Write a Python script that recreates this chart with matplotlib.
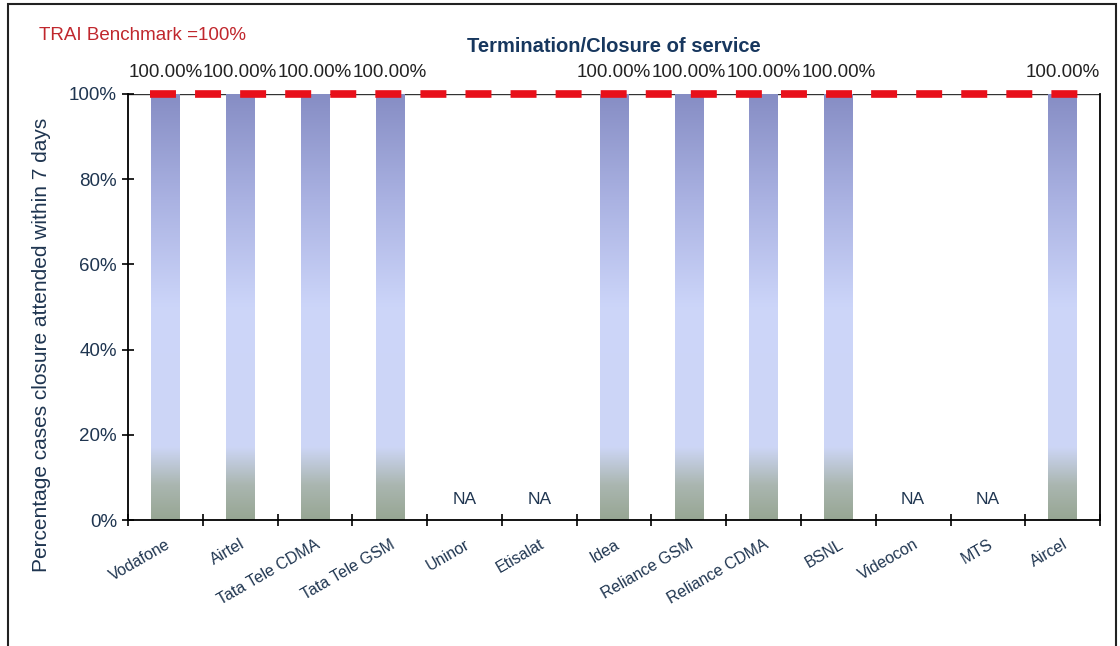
import numpy as np
import matplotlib.pyplot as plt
from matplotlib.colors import LinearSegmentedColormap
from matplotlib.patches import Rectangle

plt.rcParams['font.family'] = ['Liberation Sans', 'DejaVu Sans']

operators = ['Vodafone', 'Airtel', 'Tata Tele CDMA', 'Tata Tele GSM', 'Uninor',
             'Etisalat', 'Idea', 'Reliance GSM', 'Reliance CDMA', 'BSNL',
             'Videocon', 'MTS', 'Aircel']
values = [100, 100, 100, 100, None, None, 100, 100, 100, 100, None, None, 100]
benchmark = 100

navy = '#1f3550'

fig = plt.figure(figsize=(11.2, 6.46), dpi=100)
ax = fig.add_axes([0.1143, 0.195, 0.8679, 0.6595])

# bar gradient: grey-green at bottom, pale blue in the middle, deeper blue on top
cmap = LinearSegmentedColormap.from_list('bar', [
    (0.0, '#97a693'), (0.08, '#aab6b0'), (0.17, '#cdd6f6'),
    (0.5, '#ccd5f9'), (0.75, '#aab2e2'), (1.0, '#868dc4')])
grad = np.linspace(0, 1, 256).reshape(-1, 1)
bw = 0.38

x = np.arange(len(operators))
for i, v in enumerate(values):
    if v is None:
        ax.text(i, 3, 'NA', ha='center', va='bottom', fontsize=12.5, color=navy)
    else:
        ax.imshow(grad, cmap=cmap, origin='lower', aspect='auto',
                  extent=[i - bw / 2, i + bw / 2, 0, v], zorder=2)
        ax.text(i, v + 3.0, '%.2f%%' % v, ha='center', va='bottom',
                fontsize=13.5, color='#222222')

ax.axhline(benchmark, color='#333333', lw=1, zorder=1)
ax.plot([-0.205, 12.4], [benchmark, benchmark], color='#e8101a', lw=5.5,
        dashes=(3.4, 2.5), solid_capstyle='butt', zorder=3, clip_on=False)

ax.set_xlim(-0.5, len(operators) - 0.5)
ax.set_ylim(0, 100)
ax.set_yticks([0, 20, 40, 60, 80, 100])
ax.set_yticklabels(['0%', '20%', '40%', '60%', '80%', '100%'])
ax.set_xticks(np.arange(len(operators) + 1) - 0.5, minor=False)
ax.set_xticklabels([])
ax.set_xticks(x, minor=True)
ax.set_xticklabels(operators, minor=True, rotation=30, ha='right',
                   rotation_mode='anchor', fontsize=11.5, color=navy)
ax.tick_params(axis='x', which='minor', length=0, pad=12)
ax.tick_params(axis='x', which='major', direction='inout', length=8, width=1.2)
ax.tick_params(axis='y', direction='inout', length=8, width=1.2,
               labelsize=13.5, labelcolor=navy, pad=4)
for s in ['left', 'bottom', 'right']:
    ax.spines[s].set_linewidth(1.3)
ax.spines['top'].set_visible(False)

ax.set_ylabel('Percentage cases closure attended within 7 days', fontsize=15,
              color=navy)
ax.yaxis.set_label_coords(-0.079, 0.41)
ax.set_title('Termination/Closure of service', fontsize=14.5, fontweight='bold',
             color='#17375e', pad=30)
fig.text(0.035, 0.945, 'TRAI Benchmark =100%', fontsize=13.5, color='#c0272d',
         va='center')

fig.patches.append(Rectangle((0.007, -0.01), 0.989, 1.004, transform=fig.transFigure,
                             fill=False, edgecolor='#222222', lw=1.5))

fig.savefig('out.png', dpi=100)
